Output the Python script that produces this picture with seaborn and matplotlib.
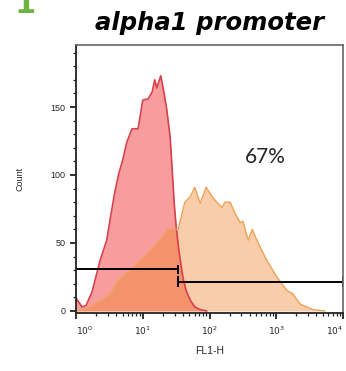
import numpy as np
import pandas as pd
import seaborn as sns
import matplotlib.pyplot as plt
from matplotlib.ticker import LogLocator, MultipleLocator, NullFormatter, FixedLocator

sns.set_style("ticks")
plt.rcParams['font.family'] = ['Liberation Sans', 'DejaVu Sans']

# control histogram (red), x given in decades of FL1-H
red_log = [0.00, 0.09, 0.15, 0.24, 0.36, 0.46, 0.51, 0.58, 0.64, 0.70, 0.76, 0.84, 0.93,
           1.00, 1.08, 1.14, 1.18, 1.21, 1.27, 1.32, 1.36, 1.41, 1.44, 1.47, 1.50, 1.54,
           1.60, 1.65, 1.71, 1.78, 1.86, 1.96]
red_count = [9.5, 3, 4, 14, 37, 52, 67, 87, 101, 111, 124, 134, 134,
             155, 156, 161, 170, 164, 173, 160, 148, 128, 105, 80, 62, 45,
             25, 15, 8, 3, 1, 0]

# alpha1 promoter histogram (orange)
org_log = [0.00, 0.10, 0.21, 0.36, 0.51, 0.63, 0.81, 1.03, 1.26, 1.38, 1.53, 1.63, 1.71,
           1.78, 1.86, 1.95, 2.04, 2.11, 2.19, 2.23, 2.31, 2.38, 2.46, 2.50, 2.58, 2.64,
           2.71, 2.86, 3.01, 3.16, 3.24, 3.36, 3.55, 3.73]
org_count = [0, 1, 3, 7, 12, 22, 30, 40, 52, 60, 60, 80, 84,
             91, 79, 91, 84, 80, 76, 80, 80, 72, 65, 66, 52, 60,
             52, 37, 25, 15, 13, 5, 1, 0]

# gates
gate_split = 34
gate_neg_y = 30.5
gate_pos_y = 21.5
gate_label = "67%"

red = pd.DataFrame({'FL1-H': 10 ** np.array(red_log), 'Count': red_count})
org = pd.DataFrame({'FL1-H': 10 ** np.array(org_log), 'Count': org_count})

fig = plt.figure(figsize=(3.46, 3.71), dpi=100)
ax = fig.add_axes([76 / 346, 1 - 313 / 371, 267 / 346, 268 / 371])

ax.fill_between(red['FL1-H'], red['Count'], color=(240/255, 60/255, 60/255), alpha=0.5, lw=0)
sns.lineplot(data=red, x='FL1-H', y='Count', color='#d8404c', lw=1.2, ax=ax)
ax.fill_between(org['FL1-H'], org['Count'], color=(240/255, 130/255, 40/255), alpha=0.4, lw=0)
sns.lineplot(data=org, x='FL1-H', y='Count', color='#eda256', lw=1.0, ax=ax)

# gate bars
ax.hlines(gate_neg_y, 1, gate_split, color='black', lw=1.4)
ax.vlines(gate_split, gate_neg_y - 3, gate_neg_y + 3, color='black', lw=1.4)
ax.hlines(gate_pos_y, gate_split, 1e4, color='black', lw=1.4)
ax.vlines([gate_split, 1e4], gate_pos_y - 4, gate_pos_y + 4, color='black', lw=1.4)

ax.text(0.708, 0.582, gate_label, transform=ax.transAxes, ha='center', va='center',
        fontsize=15, family=['Lato', 'DejaVu Sans'])

ax.set_xscale('log')
ax.set_xlim(1, 1e4)
ax.set_ylim(-1.5, 195.6)
ax.xaxis.set_major_locator(FixedLocator([1, 10, 100, 1000, 10000]))
ax.set_xticklabels([r'$10^0$', r'$10^1$', r'$10^2$', r'$10^3$', r'$10^4$'])
ax.xaxis.set_minor_locator(LogLocator(base=10, subs=np.arange(2, 10)))
ax.xaxis.set_minor_formatter(NullFormatter())
ax.yaxis.set_major_locator(FixedLocator([0, 50, 100, 150]))
ax.yaxis.set_minor_locator(MultipleLocator(10))

ax.tick_params(which='major', length=4, width=1.3, labelsize=6.5, color='#222222')
ax.tick_params(which='minor', length=2.2, width=0.9, color='#222222')
ax.tick_params(axis='x', pad=4)
xlabels = ax.get_xticklabels()
xlabels[0].set_horizontalalignment('left')
xlabels[-1].set_horizontalalignment('right')

for side in ['left', 'bottom']:
    ax.spines[side].set_color('#222222')
    ax.spines[side].set_linewidth(1.3)
for side in ['top', 'right']:
    ax.spines[side].set_visible(True)
    ax.spines[side].set_color('#666666')
    ax.spines[side].set_linewidth(1.2)

ax.set_xlabel('FL1-H', fontsize=7.5, labelpad=7)
ax.set_ylabel('Count', fontsize=6.5, labelpad=19)

fig.text(210 / 346, 1 - 23 / 371, 'alpha1 promoter', ha='center', va='center', color='black',
         fontsize=17.5, fontweight='bold', fontstyle='italic', family='DejaVu Sans')
fig.text(25 / 346, 1 - 13 / 371, '1', ha='center', va='baseline', fontsize=22,
         fontweight='bold', color='#6db33f', family='DejaVu Sans')

fig.savefig('out.png', dpi=100)
